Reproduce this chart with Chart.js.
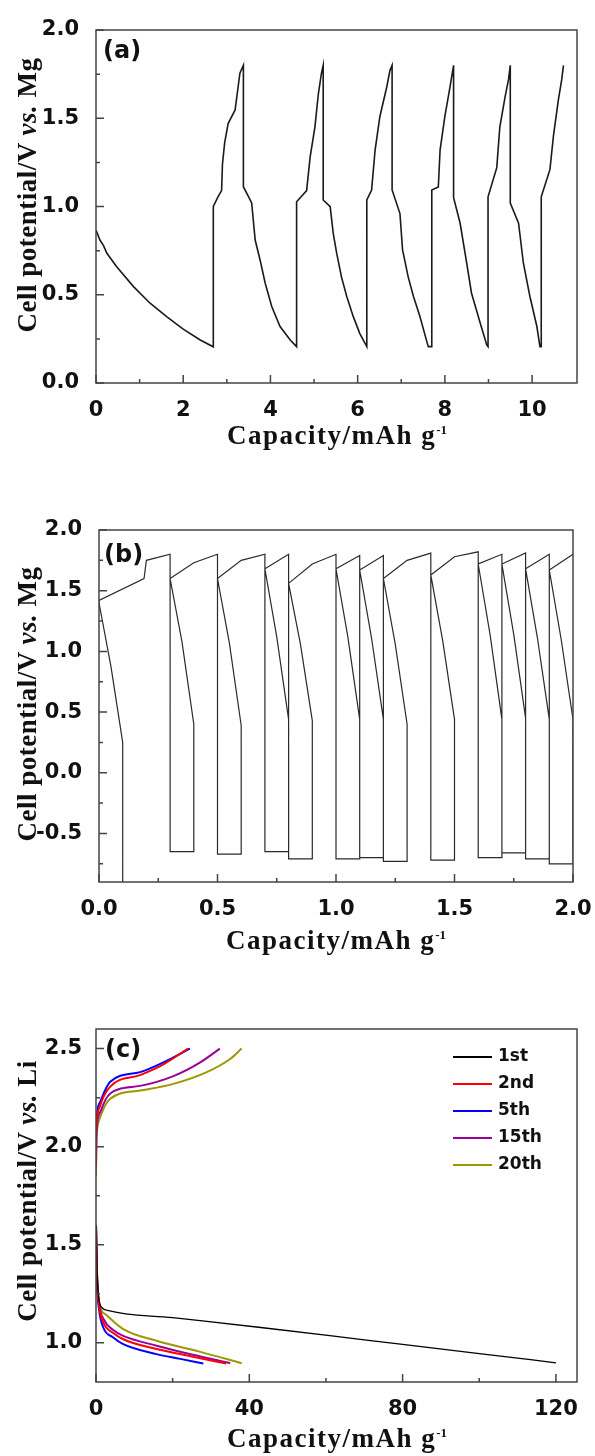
<!DOCTYPE html>
<html>
<head>
<meta charset="utf-8">
<script src="https://cdn.jsdelivr.net/npm/chart.js@4.4.0/dist/chart.umd.min.js"></script>
<style>
  body { margin: 0; background: #fff; }
  #page { position: relative; width: 595px; height: 1456px; overflow: hidden; }
  canvas { position: absolute; left: 0; }
  .xt { position: absolute; font: bold 27px "Liberation Serif", "Times New Roman", serif; letter-spacing: 1.5px;
        white-space: nowrap; transform: translate(-50%, -50%); color: #111; }
  .yt { position: absolute; font: bold 27px "Liberation Serif", "Times New Roman", serif; letter-spacing: 0.5px;
        white-space: nowrap; transform: translate(-50%, -50%) rotate(-90deg); color: #111; }
  .yt i { font-family: "Liberation Serif", "DejaVu Serif", serif; font-style: italic; }
  .pl { position: absolute; font: bold 24px "DejaVu Sans", sans-serif; line-height: 28px; color: #111; }
  sup { font-size: 13px; vertical-align: 10px; letter-spacing: 0; }
</style>
</head>
<body>
<div id="page">
  <canvas id="chartA" width="595" height="470" style="top:0px"></canvas>
  <canvas id="chartB" width="595" height="490" style="top:470px"></canvas>
  <canvas id="chartC" width="595" height="496" style="top:960px"></canvas>

  <div class="pl" style="left:103px; top:36px">(a)</div>
  <div class="pl" style="left:104px; top:540px">(b)</div>
  <div class="pl" style="left:105px; top:1035px">(c)</div>

  <div class="xt" style="left:337px; top:435px">Capacity/mAh g<sup>-1</sup></div>
  <div class="xt" style="left:336px; top:940px">Capacity/mAh g<sup>-1</sup></div>
  <div class="xt" style="left:337px; top:1438px">Capacity/mAh g<sup>-1</sup></div>

  <div class="yt" style="left:27px; top:195px">Cell potential/V <i>vs.</i> Mg</div>
  <div class="yt" style="left:27px; top:704px">Cell potential/V <i>vs.</i> Mg</div>
  <div class="yt" style="left:27px; top:1191px">Cell potential/V <i>vs.</i> Li</div>
</div>
<script>
// ---- panel (a): galvanostatic cycling vs. Mg, one continuous trace
const aCapacity = [
  0, 0.09, 0.17, 0.25, 0.47, 0.86, 1.24, 1.62, 2.0, 2.39, 2.69,
  2.69, 2.8, 2.88, 2.9, 2.95, 3.03, 3.19, 3.26, 3.3, 3.38,
  3.38, 3.57, 3.65, 3.76, 3.88, 4.03, 4.22, 4.45, 4.6,
  4.6, 4.83, 4.91, 5.02, 5.1, 5.17, 5.21,
  5.21, 5.37, 5.44, 5.52, 5.63, 5.75, 5.9, 6.05, 6.21,
  6.21, 6.32, 6.4, 6.51, 6.67, 6.74, 6.79,
  6.79, 6.97, 7.03, 7.16, 7.28, 7.43, 7.58, 7.62, 7.7,
  7.7, 7.85, 7.89, 8.0, 8.12, 8.2,
  8.2, 8.35, 8.5, 8.61, 8.81, 8.96, 8.99,
  8.99, 9.19, 9.26, 9.38, 9.46, 9.5,
  9.5, 9.69, 9.8, 9.95, 10.11, 10.18, 10.21,
  10.21, 10.41, 10.49, 10.6, 10.68, 10.72
];
const aPotential = [
  0.867, 0.81, 0.78, 0.735, 0.66, 0.546, 0.452, 0.376, 0.305, 0.244, 0.205,
  1.0, 1.056, 1.09, 1.24, 1.36, 1.47, 1.547, 1.68, 1.755, 1.8,
  1.112, 1.02, 0.81, 0.7, 0.565, 0.433, 0.32, 0.245, 0.206,
  1.027, 1.09, 1.28, 1.45, 1.64, 1.755, 1.8,
  1.037, 0.999, 0.848, 0.734, 0.6, 0.49, 0.376, 0.28, 0.206,
  1.037, 1.093, 1.32, 1.51, 1.68, 1.77, 1.8,
  1.094, 0.96, 0.754, 0.6, 0.49, 0.375, 0.24, 0.206, 0.206,
  1.094, 1.11, 1.32, 1.51, 1.68, 1.8,
  1.05, 0.905, 0.68, 0.51, 0.34, 0.216, 0.206,
  1.055, 1.22, 1.45, 1.62, 1.72, 1.8,
  1.02, 0.905, 0.68, 0.49, 0.32, 0.206, 0.206,
  1.055, 1.21, 1.4, 1.6, 1.72, 1.8
];
const aXTicks = [0, 2, 4, 6, 8, 10];
const aXMinor = [1, 3, 5, 7, 9];
const aYTicks = [0, 0.5, 1.0, 1.5, 2.0];
const aYMinor = [0.25, 0.75, 1.25, 1.75];

// ---- panel (b)
const bCapacity = [
  0.1, 0.1, 0.05, 0, 0, 0.19, 0.2, 0.3,
  0.3, 0.4, 0.4, 0.35, 0.3, 0.4, 0.5,
  0.5, 0.6, 0.6, 0.55, 0.5, 0.6, 0.7,
  0.7, 0.8, 0.8, 0.75, 0.7, 0.8,
  0.8, 0.9, 0.9, 0.85, 0.8, 0.9, 1.0,
  1.0, 1.1, 1.1, 1.05, 1.0, 1.1,
  1.1, 1.2, 1.2, 1.15, 1.1, 1.2,
  1.2, 1.3, 1.3, 1.25, 1.2, 1.3, 1.4,
  1.4, 1.5, 1.5, 1.45, 1.4, 1.5, 1.6,
  1.6, 1.7, 1.7, 1.65, 1.6, 1.7,
  1.7, 1.8, 1.8, 1.75, 1.7, 1.8,
  1.8, 1.9, 1.9, 1.85, 1.8, 1.9,
  1.9, 2.0, 2.0, 1.95, 1.9, 2.0
];
const bPotential = [
  -0.9, 0.25, 0.88, 1.4, 1.42, 1.6, 1.75, 1.8,
  -0.65, -0.65, 0.4, 1.08, 1.6, 1.73, 1.8,
  -0.67, -0.67, 0.39, 1.07, 1.6, 1.75, 1.8,
  -0.65, -0.65, 0.44, 1.12, 1.68, 1.8,
  -0.71, -0.71, 0.43, 1.06, 1.56, 1.72, 1.8,
  -0.71, -0.71, 0.44, 1.12, 1.68, 1.79,
  -0.70, -0.70, 0.44, 1.11, 1.67, 1.79,
  -0.73, -0.73, 0.40, 1.06, 1.6, 1.75, 1.81,
  -0.72, -0.72, 0.44, 1.09, 1.63, 1.78, 1.82,
  -0.70, -0.70, 0.44, 1.14, 1.72, 1.8,
  -0.66, -0.66, 0.45, 1.14, 1.72, 1.81,
  -0.71, -0.71, 0.44, 1.11, 1.68, 1.8,
  -0.75, -0.75, 0.44, 1.1, 1.67, 1.8
];
const bXTicks = [0, 0.5, 1.0, 1.5, 2.0];
const bXMinor = [0.25, 0.75, 1.25, 1.75];
const bYTicks = [-0.5, 0, 0.5, 1.0, 1.5, 2.0];
const bYMinor = [-0.75, -0.25, 0.25, 0.75, 1.25, 1.75];

// ---- panel (c): cycles vs. Li (null splits discharge / charge)
const cycleLabels = ['1st', '2nd', '5th', '15th', '20th'];
const cycleColors = ['#000000', '#ff0000', '#0000ff', '#990099', '#999900'];
const cap1st  = [0, 0.3, 0.8, 1.5, 3, 20, 43, 70, 100, 120];
const volt1st = [1.6, 1.35, 1.22, 1.18, 1.165, 1.128, 1.078, 1.015, 0.945, 0.898];
const cap2nd  = [0, 0.3, 0.8, 2, 4.5, 7.1, 15.8, 25, 34, null, 0, 0.05, 0.2, 1.1, 3.65, 11.5, 17.6, 24];
const volt2nd = [1.6, 1.32, 1.19, 1.1, 1.05, 1.018, 0.968, 0.93, 0.894, null, 1.9, 2.04, 2.12, 2.21, 2.305, 2.365, 2.42, 2.5];
const cap5th  = [0, 0.3, 0.8, 1.9, 4.5, 7.1, 15.8, 22, 28, null, 0, 0.05, 0.17, 1.04, 3.65, 11.5, 17.6, 24.5];
const volt5th = [1.6, 1.3, 1.17, 1.078, 1.027, 0.993, 0.942, 0.918, 0.894, null, 1.9, 2.05, 2.14, 2.226, 2.33, 2.38, 2.43, 2.5];
const cap15th  = [0, 0.3, 0.8, 2, 4.5, 7.1, 15.8, 25, 35, null, 0, 0.05, 0.2, 1.2, 3.65, 11.5, 20.2, 27.2, 32.3];
const volt15th = [1.6, 1.33, 1.2, 1.12, 1.065, 1.035, 0.985, 0.94, 0.896, null, 1.9, 2.03, 2.1, 2.18, 2.27, 2.31, 2.36, 2.43, 2.5];
const cap20th  = [0, 0.3, 0.8, 2.8, 7.1, 15.8, 27, 38, null, 0, 0.05, 0.25, 1.3, 3.65, 11.5, 20.2, 28.9, 35, 38];
const volt20th = [1.6, 1.34, 1.21, 1.14, 1.07, 1.01, 0.955, 0.896, null, 1.85, 2.0, 2.08, 2.16, 2.243, 2.286, 2.32, 2.38, 2.447, 2.5];
const cXTicks = [0, 40, 80, 120];
const cXMinor = [20, 60, 100];
const cYTicks = [1.0, 1.5, 2.0, 2.5];
const cYMinor = [1.25, 1.75, 2.25];

const tickFont = { family: '"DejaVu Sans", sans-serif', weight: 'bold', size: 21 };

// split x/y arrays at null into separate point lists
function toSegments(xs, ys) {
  const segs = [[]];
  xs.forEach((x, i) => {
    if (x === null) segs.push([]);
    else segs[segs.length - 1].push({ x: x, y: ys[i] });
  });
  return segs.filter(s => s.length);
}

// frame + inward major/minor ticks
const frameTicks = {
  id: 'frameTicks',
  afterDraw(chart, args, opts) {
    const ctx = chart.ctx, a = chart.chartArea, x = chart.scales.x, y = chart.scales.y;
    ctx.save();
    ctx.strokeStyle = '#444';
    ctx.lineWidth = 1.5;
    ctx.strokeRect(a.left, a.top, a.right - a.left, a.bottom - a.top);
    ctx.beginPath();
    x.ticks.forEach(t => { const p = x.getPixelForValue(t.value); ctx.moveTo(p, a.bottom); ctx.lineTo(p, a.bottom - 8); });
    opts.xMinor.forEach(v => { const p = x.getPixelForValue(v); ctx.moveTo(p, a.bottom); ctx.lineTo(p, a.bottom - 4); });
    y.ticks.forEach(t => { const p = y.getPixelForValue(t.value); ctx.moveTo(a.left, p); ctx.lineTo(a.left + 8, p); });
    opts.yMinor.forEach(v => { const p = y.getPixelForValue(v); ctx.moveTo(a.left, p); ctx.lineTo(a.left + 4, p); });
    ctx.stroke();
    ctx.restore();
  }
};

// legend drawn inside the plot (panel c)
const legendBox = {
  id: 'legendBox',
  afterDraw(chart, args, opts) {
    if (!opts.show) return;
    const ctx = chart.ctx;
    ctx.save();
    ctx.font = 'bold 17px "DejaVu Sans", sans-serif';
    ctx.textBaseline = 'middle';
    cycleLabels.forEach((lab, i) => {
      const yy = opts.top + i * opts.step;
      ctx.strokeStyle = cycleColors[i];
      ctx.lineWidth = 2;
      ctx.beginPath();
      ctx.moveTo(opts.left, yy);
      ctx.lineTo(opts.left + 39, yy);
      ctx.stroke();
      ctx.fillStyle = '#111';
      ctx.fillText(lab, opts.left + 45, yy);
    });
    ctx.restore();
  }
};

function makeChart(id, datasets, o) {
  return new Chart(document.getElementById(id), {
    type: 'scatter',
    data: { datasets: datasets },
    plugins: [frameTicks, legendBox],
    options: {
      responsive: false,
      animation: false,
      events: [],
      layout: { padding: o.pad },
      plugins: {
        legend: { display: false },
        tooltip: { enabled: false },
        frameTicks: { xMinor: o.xMinor, yMinor: o.yMinor },
        legendBox: o.legend || { show: false }
      },
      scales: {
        x: {
          type: 'linear', min: o.xMin, max: o.xMax,
          grid: { display: false }, border: { display: false },
          ticks: { font: tickFont, color: '#111', padding: 7, maxRotation: 0,
                   callback: v => v.toFixed(o.xDec) },
          afterBuildTicks: s => { s.ticks = o.xTicks.map(v => ({ value: v })); },
          afterFit: s => { s.height = 40; s.paddingLeft = 0; s.paddingRight = 0; }
        },
        y: {
          type: 'linear', min: o.yMin, max: o.yMax,
          grid: { display: false }, border: { display: false },
          ticks: { font: tickFont, color: '#111', padding: o.yPad,
                   callback: v => v.toFixed(1) },
          afterBuildTicks: s => { s.ticks = o.yTicks.map(v => ({ value: v })); },
          afterFit: s => { s.width = o.yWidth; s.paddingTop = 0; s.paddingBottom = 0; }
        }
      }
    }
  });
}

function trace(xs, ys, color, width, smooth) {
  return toSegments(xs, ys).map(pts => ({
    data: pts, showLine: true, borderColor: color, borderWidth: width,
    pointRadius: 0, tension: 0, cubicInterpolationMode: smooth ? 'monotone' : 'default'
  }));
}

makeChart('chartA', trace(aCapacity, aPotential, '#1a1a1a', 1.6, false), {
  pad: { left: 0, top: 30, right: 18, bottom: 47 }, yWidth: 96, yPad: 9,
  xMin: 0, xMax: 11.03, xTicks: aXTicks, xMinor: aXMinor, xDec: 0,
  yMin: 0, yMax: 2.0, yTicks: aYTicks, yMinor: aYMinor
});

makeChart('chartB', trace(bCapacity, bPotential, '#2a2a2a', 1.2, false), {
  pad: { left: 0, top: 60, right: 22, bottom: 38 }, yWidth: 99, yPad: 9,
  xMin: 0, xMax: 2.0, xTicks: bXTicks, xMinor: bXMinor, xDec: 1,
  yMin: -0.9, yMax: 2.0, yTicks: bYTicks, yMinor: bYMinor
});

const cSeries = [[cap1st, volt1st], [cap2nd, volt2nd], [cap5th, volt5th], [cap15th, volt15th], [cap20th, volt20th]];
const cDatasets = [];
cSeries.forEach((s, i) => {
  trace(s[0], s[1], cycleColors[i], i === 0 ? 1.3 : 2, true).forEach(d => cDatasets.push(d));
});
makeChart('chartC', cDatasets, {
  pad: { left: 0, top: 69, right: 18, bottom: 34 }, yWidth: 96, yPad: 6,
  xMin: 0, xMax: 125.5, xTicks: cXTicks, xMinor: cXMinor, xDec: 0,
  yMin: 0.8, yMax: 2.6, yTicks: cYTicks, yMinor: cYMinor,
  legend: { show: true, left: 453, top: 97, step: 27 }
});
</script>
</body>
</html>
